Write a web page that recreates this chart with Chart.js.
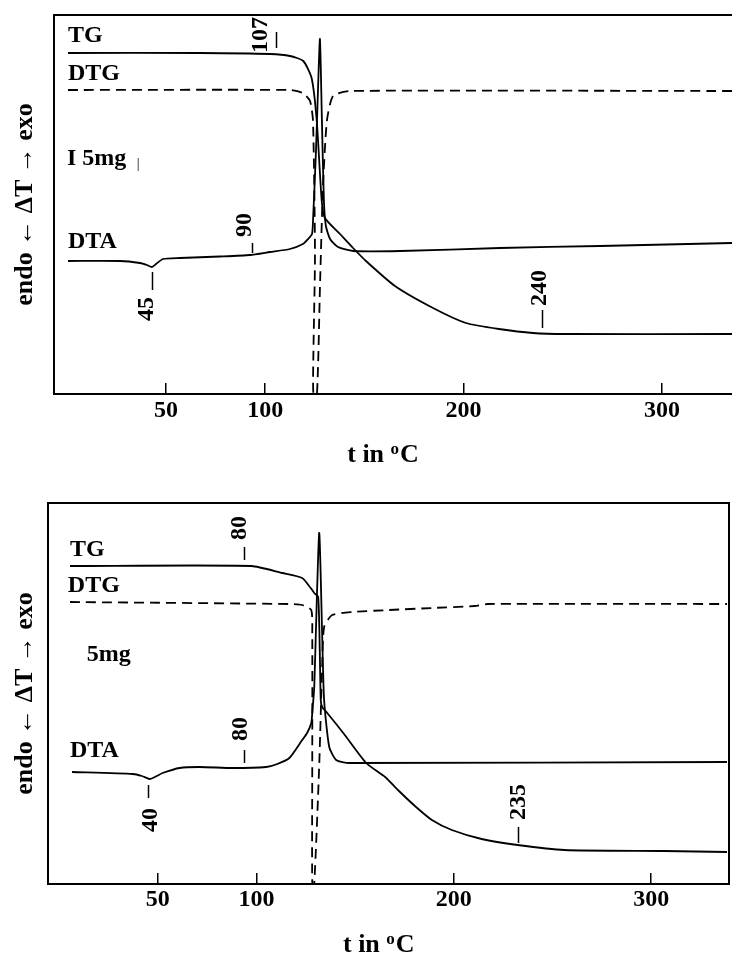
<!DOCTYPE html>
<html>
<head>
<meta charset="utf-8">
<title>TG / DTG / DTA</title>
<script src="https://cdn.jsdelivr.net/npm/chart.js@4"></script>
<style>
  body { margin: 0; background: #fff; }
  canvas { display: block; }
</style>
</head>
<body>
<canvas id="chartA" width="732" height="481"></canvas>
<canvas id="chartB" width="732" height="481"></canvas>
<script>
// temperatures in °C, signals in arbitrary units
const tickValues = [50, 100, 200, 300];

// --- upper thermogram ---
const tgAT  = [0.6, 67, 102.4, 112.5, 119.2, 123.4, 126, 128.5, 130.1, 137.7, 144.3, 150.8, 165.4, 184.6, 201.2, 217.8, 235, 251.6, 335.3];
const tgAY  = [341, 341, 340, 338, 333, 316, 273, 193, 176, 160, 146, 133, 108, 86, 71, 65, 61, 60, 60];
const dtgAT = [0.6, 112.5, 119, 122.6, 124.1, 125.1, 124.3, 124.3, 126.1, 127.6, 129.1, 131.1, 134.2, 142.7, 335.3];
const dtgAY = [304, 304, 301, 293, 273, 140, 40, 0, 0, 106, 206, 273, 298, 303, 303];
const dtaAT = [0.6, 26.8, 36.9, 40.4, 42.9, 45, 48.5, 57.1, 77.2, 92.3, 102.4, 112.5, 119, 121.6, 123.6, 124.1, 125.6, 126.6, 127.6, 128.6, 129.6, 130.6, 132.7, 136.7, 144.3, 168, 218.3, 268.8, 335.3];
const dtaAY = [133, 133, 131, 129, 127, 130, 135, 136, 137.5, 139, 142, 145, 150, 155, 160, 173, 243, 303, 355, 273, 193, 168, 155, 147, 143, 143, 146, 148, 151];

// --- lower thermogram ---
const tgBT  = [5.6, 97.5, 113.1, 123.2, 127.5, 129.3, 131.3, 132.1, 132.6, 133.3, 135.9, 144.4, 155.6, 165.2, 171.7, 180.3, 188.9, 199, 214.1, 232.3, 256.1, 306.6, 338.4];
const tgBY  = [318, 318, 311, 306, 296, 291, 287, 234, 184, 177, 171, 150, 121, 107, 94, 78, 64, 54, 45, 39, 34, 33, 32];
const dtgBT = [5.6, 116.7, 123.2, 127.8, 128.3, 128.3, 128.3, 129.3, 131.8, 133.3, 134.3, 138.4, 148.5, 167.2, 188.9, 210.6, 217.2, 338.4];
const dtgBY = [282, 280, 279, 274, 251, 117, 0, 0, 117, 217, 257, 269, 272, 274, 276, 278, 280, 280];
const dtaBT = [6.6, 37.4, 42, 46, 49.5, 52.5, 61.1, 71.2, 87.9, 105, 110.6, 116.7, 123.2, 125.7, 127.8, 128.3, 129.3, 131.8, 133.3, 134.3, 136.9, 140.4, 147, 338.4];
const dtaBY = [112, 110, 108, 105, 108, 111, 116, 117, 116, 117, 120, 126, 144, 151, 161, 171, 197, 351, 251, 184, 137, 124, 121, 122];

// curve names written inside the frame
const nameTextA = ['TG', 'DTG', 'I 5mg', '|', 'DTA'];
const nameTA    = [0.6, 0.6, 0.1, 35.3, 0.6];
const nameYA    = [358, 320, 235, 230, 152];
const nameTextB = ['TG', 'DTG', '5mg', 'DTA'];
const nameTB    = [5.6, 4.5, 14.1, 5.6];
const nameYB    = [334, 298, 229, 133];

// marked temperatures (rotated numbers) and their small ticks
const markTextA = ['107', '90', '45', '240'];
const markTA    = [97.1, 89.3, 39.9, 237.8];
const markYA    = [359, 169, 85, 106];
const markTickTA  = [105.4, 93.3, 42.8, 239.5];
const markTickY0A = [346, 141, 104, 66];
const markTickY1A = [362, 151, 122, 84];

const markTextB = ['80', '80', '40', '235'];
const markTB    = [90.9, 91.4, 46, 232.3];
const markYB    = [356, 155, 64, 82];
const markTickTB  = [93.9, 93.9, 45.1, 232.5];
const markTickY0B = [324, 121, 86, 41];
const markTickY1B = [337, 134, 99, 57];

const serif = '"Liberation Serif", "Times New Roman", serif';
Chart.defaults.font.family = serif;
Chart.defaults.color = '#000';

function pts(t, y) {
    return t.map((v, i) => ({ x: v, y: y[i] }));
}

// draws curve names, the marked temperatures and the axis title
const notesPlugin = {
    id: 'notes',
    afterDraw(chart) {
        const o = chart.options.plugins.notes;
        const ctx = chart.ctx;
        const xs = chart.scales.x, ys = chart.scales.y;
        ctx.save();
        ctx.fillStyle = '#000';
        ctx.strokeStyle = '#000';
        ctx.textBaseline = 'middle';

        o.names.forEach((n, i) => {
            const thin = n === '|';
            ctx.font = thin ? '14px ' + serif : 'bold 24px ' + serif;
            ctx.textAlign = 'left';
            ctx.fillText(n, xs.getPixelForValue(o.nameT[i]), ys.getPixelForValue(o.nameY[i]));
        });

        o.marks.forEach((m, i) => {
            ctx.save();
            ctx.translate(xs.getPixelForValue(o.markT[i]), ys.getPixelForValue(o.markY[i]));
            ctx.rotate(-Math.PI / 2);
            ctx.font = 'bold 24px ' + serif;
            ctx.textAlign = 'center';
            ctx.fillText(m, 0, 1);
            ctx.restore();
            const tx = Math.round(xs.getPixelForValue(o.tickT[i])) + 0.5;
            ctx.lineWidth = 1.5;
            ctx.beginPath();
            ctx.moveTo(tx, ys.getPixelForValue(o.tickY0[i]));
            ctx.lineTo(tx, ys.getPixelForValue(o.tickY1[i]));
            ctx.stroke();
        });

        // "t in oC" with raised o
        const base = chart.chartArea.bottom + 68;
        const big = 'bold 26px ' + serif, small = 'bold 17px ' + serif;
        ctx.textBaseline = 'alphabetic';
        ctx.textAlign = 'left';
        ctx.font = big;
        const w1 = ctx.measureText('t in ').width;
        const w3 = ctx.measureText('C').width;
        ctx.font = small;
        const w2 = ctx.measureText('o').width + 1;
        let x = xs.getPixelForValue(o.titleT) - (w1 + w2 + w3) / 2;
        ctx.font = big;
        ctx.fillText('t in ', x, base);
        ctx.font = small;
        ctx.fillText('o', x + w1, base - 8);
        ctx.font = big;
        ctx.fillText('C', x + w1 + w2, base);
        ctx.restore();
    }
};

function makePanel(id, p) {
    const line = (t, y, dash) => ({
        data: pts(t, y),
        borderColor: '#000',
        borderWidth: 1.8,
        borderDash: dash || [],
        pointRadius: 0,
        tension: 0.2,
        fill: false
    });
    const frame = { display: true, color: '#000', width: 2 };
    const scales = {
        x: {
            type: 'linear', position: 'bottom', min: p.tMin, max: p.tMax,
            afterBuildTicks: s => { s.ticks = tickValues.map(v => ({ value: v })); },
            afterFit: s => { s.height = p.bottomH; },
            grid: { drawOnChartArea: false, drawTicks: true, tickLength: -11, color: '#000', lineWidth: 1.5 },
            border: frame,
            ticks: { padding: p.tickPad, color: '#000', autoSkip: false, maxRotation: 0,
                     font: { family: serif, weight: 'bold', size: 24, lineHeight: 1 } }
        },
        xTop: {
            type: 'linear', position: 'top', min: p.tMin, max: p.tMax,
            afterFit: s => { s.height = p.topH; },
            grid: { drawOnChartArea: false, drawTicks: false },
            border: frame,
            ticks: { display: false }
        },
        y: {
            type: 'linear', position: 'left', min: 0, max: p.yMax,
            afterFit: s => { s.width = p.leftW; },
            grid: { drawOnChartArea: false, drawTicks: false },
            border: frame,
            ticks: { display: false },
            title: { display: true, text: 'endo \u2190 \u0394T \u2192 exo', color: '#000',
                     font: { family: serif, weight: 'bold', size: 26, lineHeight: 1 },
                     padding: { top: p.titlePad, bottom: 0 } }
        }
    };
    if (p.rightW) {
        scales.yRight = {
            type: 'linear', position: 'right', min: 0, max: p.yMax,
            afterFit: s => { s.width = p.rightW; },
            grid: { drawOnChartArea: false, drawTicks: false },
            border: frame,
            ticks: { display: false }
        };
    }
    return new Chart(document.getElementById(id), {
        type: 'line',
        data: { datasets: [
            line(p.tgT, p.tgY),
            line(p.dtgT, p.dtgY, [10, 6]),
            line(p.dtaT, p.dtaY)
        ] },
        options: {
            responsive: false,
            animation: false,
            events: [],
            layout: { padding: 0 },
            scales: scales,
            plugins: {
                legend: { display: false },
                tooltip: { enabled: false },
                notes: p.notes
            }
        },
        plugins: [notesPlugin]
    });
}

makePanel('chartA', {
    tMin: -6.45, tMax: 335.3, yMax: 379,
    bottomH: 87, topH: 15, leftW: 54, rightW: 0, tickPad: 16, titlePad: 12,
    tgT: tgAT, tgY: tgAY, dtgT: dtgAT, dtgY: dtgAY, dtaT: dtaAT, dtaY: dtaAY,
    notes: {
        names: nameTextA, nameT: nameTA, nameY: nameYA,
        marks: markTextA, markT: markTA, markY: markYA,
        tickT: markTickTA, tickY0: markTickY0A, tickY1: markTickY1A,
        titleT: 159.4
    }
});

makePanel('chartB', {
    tMin: -5.56, tMax: 339.4, yMax: 381,
    bottomH: 78, topH: 22, leftW: 48, rightW: 3, tickPad: 15, titlePad: 12,
    tgT: tgBT, tgY: tgBY, dtgT: dtgBT, dtgY: dtgBY, dtaT: dtaBT, dtaY: dtaBY,
    notes: {
        names: nameTextB, nameT: nameTB, nameY: nameYB,
        marks: markTextB, markT: markTB, markY: markYB,
        tickT: markTickTB, tickY0: markTickY0B, tickY1: markTickY1B,
        titleT: 162
    }
});
</script>
</body>
</html>
